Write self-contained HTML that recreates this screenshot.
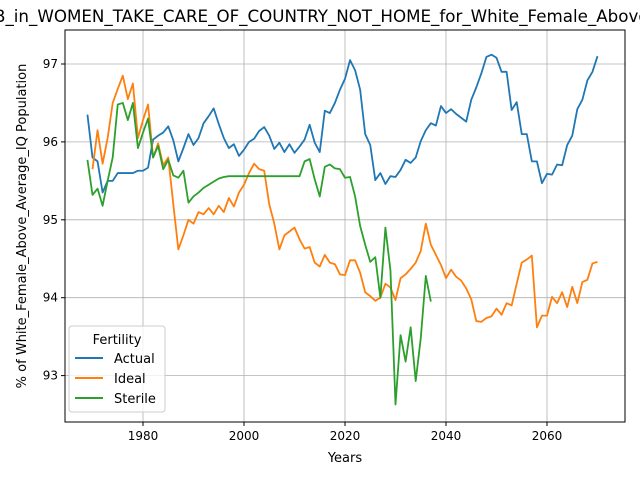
<!DOCTYPE html>
<html><head><meta charset="utf-8"><style>
body{margin:0;background:#fff;width:640px;height:480px;overflow:hidden}
text{font-family:"DejaVu Sans","Liberation Sans",sans-serif}
</style></head><body>
<svg id="chart" width="640" height="480" xmlns="http://www.w3.org/2000/svg">
<text x="-6" y="22" font-size="16.7" fill="#000">B_in_WOMEN_TAKE_CARE_OF_COUNTRY_NOT_HOME_for_White_Female_Above_Average_IQ</text>
<g id="grid"></g><g id="series"></g><g id="axes"></g>
<g>
<rect x="69" y="326" width="96" height="86" rx="3" fill="#fff" fill-opacity="0.8" stroke="#ccc"/>
<text x="117" y="344" font-size="13" text-anchor="middle">Fertility</text>
<line x1="75" y1="358" x2="103" y2="358" stroke="#1f77b4" stroke-width="2"/>
<text x="114" y="363" font-size="13">Actual</text>
<line x1="75" y1="378" x2="103" y2="378" stroke="#ff7f0e" stroke-width="2"/>
<text x="114" y="383" font-size="13">Ideal</text>
<line x1="75" y1="398" x2="103" y2="398" stroke="#2ca02c" stroke-width="2"/>
<text x="114" y="403" font-size="13">Sterile</text>
</g>
<text x="345" y="462" font-size="13" text-anchor="middle">Years</text>
<text transform="translate(26,226) rotate(-90)" font-size="13" text-anchor="middle">% of White_Female_Above_Average_IQ Population</text>
</svg>
<script>
const actualStart=1969;
const actual=[96.35,95.8,95.75,95.35,95.5,95.5,95.6,95.6,95.6,95.6,95.63,95.63,95.67,96.03,96.08,96.12,96.2,96.02,95.75,95.92,96.1,95.96,96.05,96.24,96.33,96.43,96.23,96.05,95.92,95.97,95.82,95.9,96.0,96.04,96.14,96.19,96.08,95.91,95.99,95.87,95.97,95.86,95.94,96.03,96.22,95.99,95.87,96.4,96.37,96.5,96.67,96.81,97.05,96.92,96.67,96.1,95.96,95.51,95.6,95.46,95.56,95.55,95.64,95.77,95.73,95.8,96.01,96.15,96.24,96.21,96.46,96.37,96.42,96.36,96.31,96.26,96.54,96.7,96.88,97.09,97.12,97.08,96.9,96.9,96.41,96.51,96.1,96.1,95.75,95.75,95.47,95.59,95.58,95.71,95.7,95.96,96.08,96.42,96.54,96.79,96.9,97.1];
const idealStart=1970;
const ideal=[95.65,96.15,95.72,96.05,96.5,96.68,96.85,96.55,96.75,96.05,96.28,96.48,95.8,95.98,95.7,95.8,95.2,94.62,94.8,95.0,94.95,95.1,95.07,95.15,95.07,95.18,95.1,95.28,95.17,95.35,95.45,95.6,95.72,95.65,95.63,95.2,94.95,94.62,94.8,94.85,94.9,94.75,94.63,94.65,94.45,94.4,94.55,94.45,94.43,94.3,94.29,94.48,94.48,94.32,94.07,94.02,93.96,94.0,94.18,94.13,93.97,94.25,94.3,94.37,94.45,94.6,94.95,94.68,94.55,94.42,94.25,94.36,94.27,94.22,94.12,93.98,93.7,93.69,93.74,93.76,93.86,93.78,93.93,93.9,94.18,94.45,94.49,94.54,93.62,93.77,93.77,94.01,93.93,94.07,93.88,94.14,93.93,94.2,94.23,94.44,94.46];
const sterileStart=1969;
const sterile=[95.77,95.32,95.4,95.18,95.5,95.8,96.48,96.5,96.28,96.5,95.92,96.12,96.3,95.8,95.95,95.65,95.77,95.57,95.54,95.63,95.22,95.3,95.35,95.41,95.45,95.49,95.53,95.55,95.56,95.56,95.56,95.56,95.56,95.56,95.56,95.56,95.56,95.56,95.56,95.56,95.56,95.56,95.56,95.75,95.78,95.52,95.3,95.68,95.71,95.66,95.65,95.54,95.55,95.3,94.92,94.68,94.46,94.52,94.0,94.9,94.35,92.63,93.52,93.18,93.62,92.93,93.48,94.28,93.95];
const xTicks=[1980,2000,2020,2040,2060];
const yTicks=[93,94,95,96,97];
const L=65,R=625,T=30,B=422;
const xs=y=>143+(y-1980)*(101/20);
const ys=v=>64+(97-v)*77.9;
const NS="http://www.w3.org/2000/svg";
function mk(p,tag,a){const e=document.createElementNS(NS,tag);for(const k in a)e.setAttribute(k,a[k]);document.getElementById(p).appendChild(e);return e;}
xTicks.forEach(t=>{const x=xs(t);
const g=mk('grid','line',{x1:x,x2:x,y1:T,y2:B,stroke:'#b0b0b0','stroke-width':0.8});


mk('axes','line',{x1:x,x2:x,y1:B,y2:B+4,stroke:'#000'});
const tx=mk('axes','text',{x:x,y:B+18,'font-size':12,'text-anchor':'middle'});tx.textContent=t;

});
yTicks.forEach(t=>{const y=ys(t);
const g=mk('grid','line',{x1:L,x2:R,y1:y,y2:y,stroke:'#b0b0b0','stroke-width':0.8});


mk('axes','line',{x1:L-4,x2:L,y1:y,y2:y,stroke:'#000'});
const tx=mk('axes','text',{x:L-7,y:y+4,'font-size':12,'text-anchor':'end'});tx.textContent=t;

});
const fr=mk('axes','rect',{x:L,y:T,width:R-L,height:B-T,fill:'none',stroke:'#000','stroke-width':1});


[[actual,actualStart,'#1f77b4','actual-line'],[ideal,idealStart,'#ff7f0e','ideal-line'],[sterile,sterileStart,'#2ca02c','sterile-line']].forEach(([d,s,c,n])=>{
const p=mk('series','polyline',{points:d.map((v,i)=>xs(s+i)+','+ys(v)).join(' '),fill:'none',stroke:c,'stroke-width':1.8,'stroke-linejoin':'round'});

});
</script>
</body></html>
